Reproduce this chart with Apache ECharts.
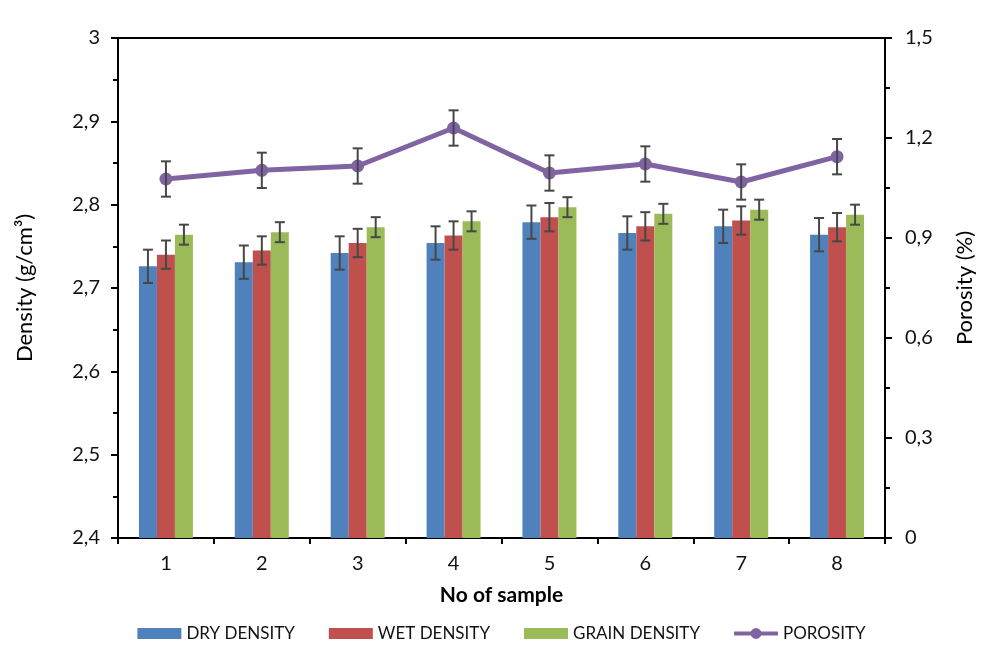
<!DOCTYPE html>
<html lang="en">

<head>
    <meta charset="UTF-8">
    <meta name="viewport" content="width=device-width, initial-scale=1.0">
    <script src="https://cdn.jsdelivr.net/npm/echarts@6/dist/echarts.min.js"></script>
    <title>Density and porosity</title>
    <style>
        body { margin: 0; background: #fff; }
    </style>
</head>

<body>
    <div id="main" style="width: 1003px;height:653px;"></div>

    <script>
        var samples = ['1', '2', '3', '4', '5', '6', '7', '8'];
        var dryDensity = [2.726, 2.731, 2.742, 2.754, 2.779, 2.766, 2.774, 2.764];
        var wetDensity = [2.740, 2.745, 2.754, 2.763, 2.785, 2.774, 2.781, 2.773];
        var grainDensity = [2.764, 2.767, 2.773, 2.780, 2.797, 2.789, 2.794, 2.788];
        var porosity = [1.077, 1.103, 1.116, 1.230, 1.095, 1.122, 1.068, 1.144];
        var dryErr = [0.020, 0.020, 0.020, 0.020, 0.020, 0.020, 0.020, 0.020];
        var wetErr = [0.017, 0.017, 0.017, 0.017, 0.017, 0.017, 0.017, 0.017];
        var grainErr = [0.012, 0.012, 0.012, 0.012, 0.012, 0.012, 0.012, 0.012];
        var porosityErr = [0.053, 0.053, 0.053, 0.053, 0.053, 0.053, 0.053, 0.053];

        var font = 'Lato';
        var barW = 18;

        // thick line with a dot (polygon), for the porosity legend key
        var lineDotIcon = 'path://M0,3.5L16.9,3.5L17.24,2.75L19.25,0.74L22,0L24.75,0.74L26.76,2.75L27.1,3.5L44,3.5' +
            'L44,7.5L27.1,7.5L26.76,8.25L24.75,10.26L22,11L19.25,10.26L17.24,8.25L16.9,7.5L0,7.5Z';

        function commaLabel(v) {
            return String(Math.round(v * 10) / 10).replace('.', ',');
        }

        // error bar data: [category index, low, high]
        function errData(vals, errs) {
            var out = [];
            for (var i = 0; i < vals.length; i++) {
                out.push([i, vals[i] - errs[i], vals[i] + errs[i]]);
            }
            return out;
        }

        function errorSeries(vals, errs, offset, yIdx) {
            return {
                type: 'custom',
                yAxisIndex: yIdx,
                z: 5,
                silent: true,
                encode: { x: 0, y: [1, 2] },
                data: errData(vals, errs),
                renderItem: function (params, api) {
                    var lo = api.coord([api.value(0), api.value(1)]);
                    var hi = api.coord([api.value(0), api.value(2)]);
                    var x = lo[0] + offset;
                    var st = { stroke: '#474747', lineWidth: 2 };
                    return {
                        type: 'group',
                        children: [
                            { type: 'line', shape: { x1: x, y1: lo[1], x2: x, y2: hi[1] }, style: st },
                            { type: 'line', shape: { x1: x - 5, y1: lo[1], x2: x + 5, y2: lo[1] }, style: st },
                            { type: 'line', shape: { x1: x - 5, y1: hi[1], x2: x + 5, y2: hi[1] }, style: st }
                        ]
                    };
                }
            };
        }

        var axisStyle = { color: '#000', width: 2 };

        var myChart = echarts.init(document.getElementById('main'));

        var option = {
            backgroundColor: '#fff',
            textStyle: { fontFamily: font },
            grid: {
                left: 118,
                right: 118,
                top: 38,
                bottom: 115,
                show: true,
                borderColor: '#000',
                borderWidth: 2
            },
            legend: {
                bottom: 6,
                left: 'center',
                itemWidth: 44,
                itemHeight: 11,
                itemGap: 34,
                textStyle: { fontFamily: font, fontSize: 17, color: '#111' },
                data: [
                    { name: 'DRY DENSITY', icon: 'rect' },
                    { name: 'WET DENSITY', icon: 'rect' },
                    { name: 'GRAIN DENSITY', icon: 'rect' },
                    { name: 'POROSITY', icon: lineDotIcon, itemStyle: { color: '#8064A2', borderWidth: 0 } }
                ]
            },
            xAxis: {
                type: 'category',
                data: samples,
                name: 'No of sample',
                nameLocation: 'middle',
                nameGap: 47,
                nameTextStyle: { fontFamily: font, fontSize: 21, fontWeight: 'bold', color: '#000' },
                axisLine: { lineStyle: axisStyle },
                axisTick: { show: true, length: 6, lineStyle: axisStyle },
                axisLabel: { fontFamily: font, fontSize: 20, color: '#111', margin: 16 }
            },
            yAxis: [
                {
                    type: 'value',
                    min: 2.4,
                    max: 3,
                    interval: 0.1,
                    name: 'Density (g/cm³)',
                    nameLocation: 'middle',
                    nameRotate: 90,
                    nameGap: 82,
                    nameTextStyle: { fontFamily: font, fontSize: 22, color: '#000' },
                    axisLine: { show: true, lineStyle: axisStyle },
                    axisTick: { show: true, length: 7, lineStyle: axisStyle },
                    minorTick: { show: true, splitNumber: 2, length: 5, lineStyle: axisStyle },
                    splitLine: { show: false },
                    axisLabel: { fontFamily: font, fontSize: 20, color: '#111', margin: 18, formatter: commaLabel }
                },
                {
                    type: 'value',
                    min: 0,
                    max: 1.5,
                    interval: 0.3,
                    name: 'Porosity (%)',
                    nameLocation: 'middle',
                    nameRotate: 90,
                    nameGap: 69,
                    nameTextStyle: { fontFamily: font, fontSize: 22, color: '#000' },
                    axisLine: { show: true, lineStyle: axisStyle },
                    axisTick: { show: true, length: 7, lineStyle: axisStyle },
                    minorTick: { show: true, splitNumber: 2, length: 5, lineStyle: axisStyle },
                    splitLine: { show: false },
                    axisLabel: { fontFamily: font, fontSize: 20, color: '#111', margin: 20, formatter: commaLabel }
                }
            ],
            series: [
                {
                    name: 'DRY DENSITY',
                    type: 'bar',
                    barWidth: barW,
                    barGap: '0%',
                    itemStyle: { color: '#4F81BD' },
                    data: dryDensity
                },
                {
                    name: 'WET DENSITY',
                    type: 'bar',
                    barWidth: barW,
                    barGap: '0%',
                    itemStyle: { color: '#C0504D' },
                    data: wetDensity
                },
                {
                    name: 'GRAIN DENSITY',
                    type: 'bar',
                    barWidth: barW,
                    barGap: '0%',
                    itemStyle: { color: '#9BBB59' },
                    data: grainDensity
                },
                {
                    name: 'POROSITY',
                    type: 'line',
                    yAxisIndex: 1,
                    z: 4,
                    symbol: 'circle',
                    symbolSize: 13,
                    lineStyle: { color: '#8064A2', width: 5 },
                    itemStyle: { color: '#8064A2' },
                    data: porosity
                },
                errorSeries(dryDensity, dryErr, -barW, 0),
                errorSeries(wetDensity, wetErr, 0, 0),
                errorSeries(grainDensity, grainErr, barW, 0),
                errorSeries(porosity, porosityErr, 0, 1)
            ]
        };

        myChart.setOption(option);
    </script>

</body>

</html>
